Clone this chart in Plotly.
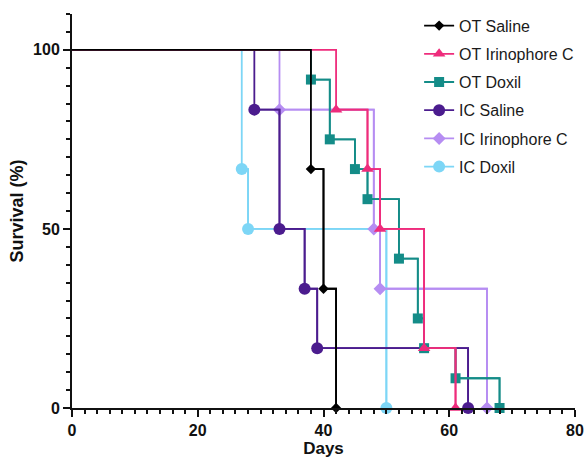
import plotly.graph_objects as go

# Kaplan-Meier step data (days, survival %)
ot_saline_days = [0, 38, 40, 42]
ot_saline_surv = [100, 66.7, 33.3, 0]

ot_irino_days = [0, 42, 47, 49, 56, 61]
ot_irino_surv = [100, 83.3, 66.7, 50, 16.7, 0]

ot_doxil_days = [0, 38, 41, 45, 47, 52, 55, 56, 61, 68]
ot_doxil_surv = [100, 91.7, 75, 66.7, 58.3, 41.7, 25, 16.7, 8.3, 0]

ic_saline_days = [0, 29, 33, 37, 39, 63]
ic_saline_surv = [100, 83.3, 50, 33.3, 16.7, 0]

ic_irino_days = [0, 33, 48, 49, 66]
ic_irino_surv = [100, 83.3, 50, 33.3, 0]

ic_doxil_days = [0, 27, 28, 50]
ic_doxil_surv = [100, 66.7, 50, 0]

series = [
    ("OT Saline", ot_saline_days, ot_saline_surv, "#000000", "diamond", 8),
    ("OT Irinophore C", ot_irino_days, ot_irino_surv, "#EE2C7C", "triangle-up", 11),
    ("OT Doxil", ot_doxil_days, ot_doxil_surv, "#148C88", "square", 10),
    ("IC Saline", ic_saline_days, ic_saline_surv, "#4B1C8E", "circle", 12),
    ("IC Irinophore C", ic_irino_days, ic_irino_surv, "#B68DF2", "diamond", 10),
    ("IC Doxil", ic_doxil_days, ic_doxil_surv, "#7DD6F6", "circle", 12),
]

fig = go.Figure()
# draw in reverse so the first series sits on top; legend order via legendrank
for rank, (name, xs, ys, color, sym, ms) in reversed(list(enumerate(series))):
    fig.add_trace(go.Scatter(
        x=xs, y=ys, mode="lines", line=dict(color=color, width=1.8, shape="hv"),
        showlegend=False, legendgroup=name, cliponaxis=False, hoverinfo="skip"))
    fig.add_trace(go.Scatter(
        x=xs[1:], y=ys[1:], mode="lines+markers", name=name, legendgroup=name,
        legendrank=rank + 1,
        line=dict(color=color, width=1.8, shape="hv"),
        marker=dict(symbol=sym, size=ms, color=color),
        cliponaxis=False))

axis_font = dict(family="Liberation Sans, Arial, sans-serif", size=16, color="#111111", weight="bold")
xtitle_font = dict(family="Liberation Sans, Arial, sans-serif", size=17, color="#111111", weight="bold")
ytitle_font = dict(family="Liberation Sans, Arial, sans-serif", size=18, color="#111111", weight="bold")

fig.update_layout(
    width=587, height=459,
    margin=dict(l=72, r=12, t=14, b=51, autoexpand=False),
    paper_bgcolor="white", plot_bgcolor="white",
    font=dict(family="Liberation Sans, Arial, sans-serif"),
    legend=dict(x=0.714, y=0.981, xref="container", yref="container",
                xanchor="left", yanchor="top",
                traceorder="grouped",
                font=dict(family="Liberation Sans, Arial, sans-serif", size=16, color="#1a1a1a"),
                tracegroupgap=4.4, bgcolor="rgba(0,0,0,0)"),
    xaxis=dict(range=[0, 80], tickvals=[0, 20, 40, 60, 80], showgrid=False, zeroline=False,
               automargin=False,
               showline=True, linecolor="#111111", linewidth=2, ticks="outside", ticklen=7,
               tickwidth=2, tickcolor="#111111", tickfont=axis_font,
               minor=dict(dtick=2, ticks="outside", ticklen=4, tickwidth=1.5, tickcolor="#111111"),
               title=dict(text="Days", font=xtitle_font, standoff=4)),
    yaxis=dict(range=[0, 110], tickvals=[0, 50, 100], showgrid=False, zeroline=False,
               automargin=False,
               showline=True, linecolor="#111111", linewidth=2, ticks="outside", ticklen=7,
               tickwidth=2, tickcolor="#111111", tickfont=axis_font,
               minor=dict(dtick=5, ticks="outside", ticklen=4, tickwidth=1.5, tickcolor="#111111"),
               title=dict(text="Survival (%)", font=ytitle_font, standoff=5)),
)

fig.write_html("out.html")
